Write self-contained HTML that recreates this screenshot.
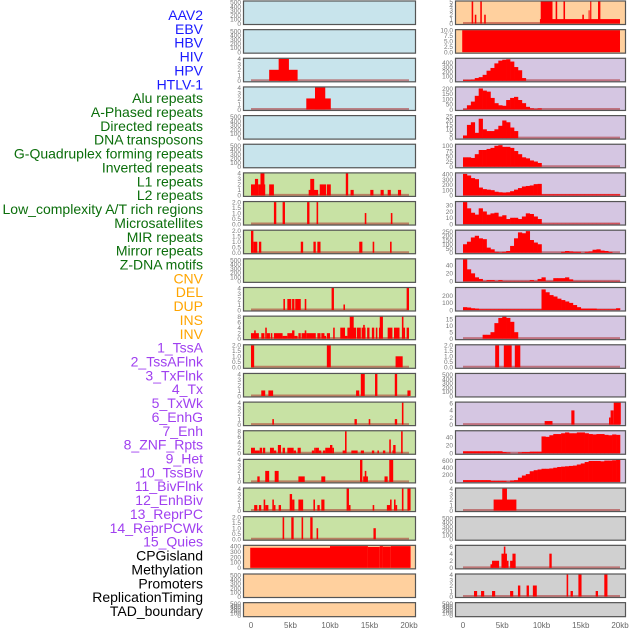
<!DOCTYPE html>
<html><head><meta charset="utf-8">
<style>
html,body{margin:0;padding:0;background:#fff;width:630px;height:630px;overflow:hidden}
svg{display:block}
</style></head>
<body>
<svg id="chart" width="630" height="630" xmlns="http://www.w3.org/2000/svg"></svg>
<script>
// ---- labels ----
const featureLabels = ["AAV2","EBV","HBV","HIV","HPV","HTLV-1","Alu repeats","A-Phased repeats","Directed repeats","DNA transposons","G-Quadruplex forming repeats","Inverted repeats","L1 repeats","L2 repeats","Low_complexity A/T rich regions","Microsatellites","MIR repeats","Mirror repeats","Z-DNA motifs","CNV","DEL","DUP","INS","INV","1_TssA","2_TssAFlnk","3_TxFlnk","4_Tx","5_TxWk","6_EnhG","7_Enh","8_ZNF_Rpts","9_Het","10_TssBiv","11_BivFlnk","12_EnhBiv","13_ReprPC","14_ReprPCWk","15_Quies","CPGisland","Methylation","Promoters","ReplicationTiming","TAD_boundary"];
const labelGroupSizes = [6,13,5,15,5];
const labelGroupColors = ["#1a1aff","#0b6e0b","#ffa500","#a040f0","#000000"];
const xTickValues = [0,5,10,15,20];
const xTickLabels = ["0","5kb","10kb","15kb","20kb"];

// ---- ticks ----
const t500 = [0,100,200,300,400,500];
const t2 = [0,0.5,1,1.5,2];
const t2lab = ["0.0","0.5","1.0","1.5","2.0"];
const t4 = [0,1,2,3,4];
const t8 = [0,2,4,6,8];

// ---- left column bar data [startKb, endKb, value] ----
const L2_bars = [[2.3,5.9,2],[3.5,4.8,4]];
const L3_bars = [[7.0,10.1,2],[8.1,9.4,4]];
const L6_bars = [[0,1,2],[0.5,0.9,3],[1.0,1.8,2],[1.2,1.7,4],[2.3,2.9,2],[7.3,8.5,1],[7.5,8.0,3],[8.7,9.5,2],[9.6,10.1,2],[12.0,12.3,4],[12.6,13.0,1],[15.1,15.5,1],[16.4,16.8,1],[17.3,17.7,1],[18.6,19.0,1]];
const L7_bars = [[2.9,3.2,2],[4.0,4.3,2],[7.1,7.4,2],[8.3,8.5,2],[14.4,14.6,1],[17.7,17.9,1]];
const L8_bars = [[0,0.3,2],[0.3,0.8,1],[1.0,1.3,1],[6.3,6.6,1],[7.9,8.2,1],[8.4,8.8,1],[13.7,14.1,1],[15.4,15.6,1],[17.6,17.8,1]];
const L10_bars = [[4.1,4.3,2],[4.6,5.1,2],[5.2,5.5,2],[5.6,6.3,2],[6.8,7.0,2],[10.2,10.5,4],[11.7,11.9,1],[19.7,20.0,4]];
const L11_bars = [[0,1,2],[0.4,0.6,3],[1.3,1.7,2],[1.8,2.0,4],[2.0,2.4,2],[2.5,2.7,2],[2.9,4.0,2],[4.0,4.6,1],[4.6,5.4,2],[5.2,5.5,3],[5.5,5.9,1],[6.0,6.3,2],[6.4,6.9,2],[6.8,7.0,3],[7.0,8.2,2],[8.4,8.8,2],[8.9,9.3,2],[9.3,9.5,1],[9.6,10.0,2],[10.4,10.6,4],[11.3,11.9,4],[11.9,12.2,1],[12.2,13.3,4],[12.5,13.0,8],[13.4,13.9,4],[14.0,14.5,4],[14.2,14.4,5],[14.7,15.0,4],[15.3,15.6,4],[15.8,16.0,4],[16.2,16.4,4],[16.3,16.7,8],[17.3,17.9,4],[18.1,18.8,4],[19.1,19.3,8],[19.3,19.5,4],[19.7,20.0,4]];
const L12_bars = [[0,0.4,2],[9.6,10.1,2],[18.3,19.2,1]];
const L13_bars = [[1.3,1.8,1],[2.2,2.8,1],[13.3,13.7,1],[13.9,14.4,4],[15.7,16.0,4],[18.2,18.5,4],[19.8,20.2,1]];
const L14_bars = [[2.7,2.9,1],[13.1,13.4,1],[14.9,15.1,1],[18.2,18.5,1],[19.1,19.3,4]];
const L15_bars = [[0,0.5,2],[0.5,1.1,1],[1.1,1.4,2],[1.5,1.8,2],[2.4,2.9,2],[2.9,3.2,1],[3.4,3.8,3],[4.0,4.3,2],[4.6,5.4,2],[5.4,5.7,1],[5.9,6.3,2],[7.7,8.0,1],[8.0,8.2,2],[8.2,8.6,2],[8.6,8.9,1],[9.1,9.4,1],[9.4,10.0,2],[10.0,10.3,3],[10.3,10.5,2],[11.6,11.9,1],[11.9,12.1,8],[12.7,13.5,1],[13.9,14.3,1],[15.3,15.6,1],[16.0,16.2,1],[16.7,17.0,1],[17.5,17.7,5],[17.9,18.3,1],[18.0,18.3,3],[19.0,19.2,8]];
const L16_bars = [[0.8,1.1,1],[1.8,2.3,2],[3.0,3.5,2],[6.0,6.8,1],[8.9,9.4,1],[13.8,14.1,4],[14.2,14.8,1],[14.4,14.6,2],[16.9,17.3,1],[17.5,18.0,4]];
const L17_bars = [[0.4,0.8,1],[1.0,1.3,1],[1.6,1.8,2],[1.8,2.2,1],[2.7,2.9,2],[2.9,3.1,1],[3.5,3.8,1],[4.9,5.2,3],[5.2,5.5,2],[6.0,6.6,2],[7.9,8.1,2],[8.4,8.7,1],[8.9,9.3,2],[12.1,12.4,4],[12.4,12.6,1],[15.4,15.6,1],[17.2,17.6,1],[17.6,17.8,2],[18.1,18.3,2],[18.3,18.5,1],[19.1,19.3,4],[19.8,20.2,4]];
const L18_bars = [[4.0,4.2,2],[5.1,5.4,2],[6.4,6.6,2],[7.5,7.8,2],[8.3,8.5,1],[15.5,15.8,1]];
const L19_bars = [[-0.1,10.0,370],[10.0,14.8,400],[14.8,16.3,385],[16.3,16.7,400],[16.7,17.7,390],[17.7,20.2,400]];

// ---- right column data ----
const R0_bars = [[9.8,20.0,1],[9.9,11.4,5],[1.1,1.3,5],[1.5,1.7,2],[2.2,2.4,5],[2.7,2.9,2],[11.8,12.0,5],[12.8,13.0,5],[15.2,15.4,2],[16.0,16.1,3],[16.2,16.35,5],[17.2,17.5,5]];
const R1_bars = [[-0.1,20.0,10]];
// histogram bins: 40 bins of 0.5 kb from 0 to 20 kb
const R2_bins = [20,20,25,60,80,130,220,280,380,440,460,470,420,300,230,60,0,0,0,0,0,0,0,0,0,0,0,0,0,0,0,0,0,0,0,0,0,0,0,0];
const R3_bins = [5,40,75,130,200,180,170,110,60,40,35,90,110,120,90,60,25,10,5,10,0,0,0,0,0,0,0,0,0,0,0,0,0,0,0,0,0,0,0,0];
const R4_bins = [3,15,18,6,22,10,8,8,10,14,20,18,12,8,0,0,0,0,0,0,0,0,0,0,0,0,0,0,0,0,0,0,0,0,0,0,0,0,0,0];
const R5_bins = [45,45,42,60,80,80,85,90,100,103,95,95,90,75,60,45,40,30,25,18,0,0,0,0,0,0,0,0,0,0,0,0,0,0,0,0,0,0,0,0];
const R6_bins = [410,380,330,310,150,120,110,100,70,60,55,60,80,110,140,170,180,190,215,220,20,20,20,20,20,20,20,20,20,20,20,20,20,20,20,20,20,20,20,20];
const R7_bins = [35,25,18,15,25,20,15,17,18,12,14,8,10,10,8,12,17,16,12,8,0.5,0.5,0.5,0.5,0.5,0.5,0.5,0.5,0.5,0.5,0.5,0.5,0.5,0.5,0.5,0.5,0.5,0.5,0.5,0.5];
const R8_bins = [100,130,180,200,170,160,60,40,10,5,10,20,80,170,240,230,255,150,120,100,0,0,0,0,0,10,20,15,10,10,0,10,15,35,40,25,20,10,0,0];
const R9_bins = [55,30,20,10,6,1,3,3,1,3,1,1,1,1,1,1,1,3,1,6,10,1,1,8,8,8,10,5,1,1,1,1,1,1,1,1,1,1,1,1];
const R10_bins = [40,35,25,20,10,10,10,10,10,10,10,10,10,10,10,10,10,10,10,10,290,250,210,190,160,140,120,100,70,40,20,20,20,20,10,10,10,10,10,25];
const R11_bins = [0,0,0,0,0,3,3,5,12,16,17,16,13,5,0,0,0,0,0,0,0,0,0,0,0,0,0,0,0,0,0,0,0,0,0,0,0,0,0,0];
const R12_bars = [[4.1,4.6,2],[5.2,6.2,2],[6.6,7.3,2]];
const R14_bars = [[10.4,11.4,1],[13.8,14.2,4],[18.6,18.8,2],[18.8,19.2,4],[19.2,20.1,6.2]];
const R15_bins = [5,5,5,5,5,5,5,5,5,5,3,2,0,0,2,3,3,4,4,4,42,41,45,48,48,50,52,50,50,52,52,50,48,47,48,48,46,45,47,46];
const R16_bins = [50,50,50,50,50,50,50,30,30,30,30,10,40,50,120,180,220,300,330,350,370,370,380,400,420,430,440,450,460,490,520,560,590,590,590,580,600,600,610,620];
const R17_bars = [[3.9,6.8,2],[5.0,5.6,4]];
const R19_bars = [[3.5,3.8,1],[3.7,4.6,2],[4.9,5.6,4],[5.2,5.4,6],[5.6,5.8,2],[6.0,6.7,2],[6.3,6.7,4],[11.0,11.3,4]];
const R20_bars = [[1.4,1.8,1],[2.3,2.7,1],[3.7,4.1,1],[6.0,6.4,1],[7.0,7.3,2],[8.1,8.4,2],[8.9,9.4,2],[13.2,13.4,4],[13.7,14.0,1],[14.7,15.1,4],[16.9,17.2,1],[18.0,18.4,4]];

// ---- panel registry (col, row, data, ticks, ymax) ----
const BLUE="#c8e4ec",GREEN="#c8e2a4",PURPLE="#d5c6e2",PEACH="#ffd09e",GREY="#d0d0d0";
const panels = [
 {c:0,r:0,bg:BLUE,ticks:t500,ymax:520},{c:0,r:1,bg:BLUE,ticks:t500,ymax:520},
 {c:0,r:2,bg:BLUE,bars:L2_bars,ticks:t4,ymax:4},{c:0,r:3,bg:BLUE,bars:L3_bars,ticks:t4,ymax:4},
 {c:0,r:4,bg:BLUE,ticks:t500,ymax:520},{c:0,r:5,bg:BLUE,ticks:t500,ymax:520},
 {c:0,r:6,bg:GREEN,bars:L6_bars,ticks:t4,ymax:4},{c:0,r:7,bg:GREEN,bars:L7_bars,ticks:t2,lab:t2lab,ymax:2},
 {c:0,r:8,bg:GREEN,bars:L8_bars,ticks:t2,lab:t2lab,ymax:2},{c:0,r:9,bg:GREEN,ticks:t500,ymax:520},
 {c:0,r:10,bg:GREEN,bars:L10_bars,ticks:t4,ymax:4},{c:0,r:11,bg:GREEN,bars:L11_bars,ticks:t8,ymax:8},
 {c:0,r:12,bg:GREEN,bars:L12_bars,ticks:t2,lab:t2lab,ymax:2},{c:0,r:13,bg:GREEN,bars:L13_bars,ticks:t4,ymax:4},
 {c:0,r:14,bg:GREEN,bars:L14_bars,ticks:t4,ymax:4},{c:0,r:15,bg:GREEN,bars:L15_bars,ticks:t8,ymax:8},
 {c:0,r:16,bg:GREEN,bars:L16_bars,ticks:t4,ymax:4},{c:0,r:17,bg:GREEN,bars:L17_bars,ticks:t4,ymax:4},
 {c:0,r:18,bg:GREEN,bars:L18_bars,ticks:t2,lab:t2lab,ymax:2},{c:0,r:19,bg:PEACH,bars:L19_bars,ticks:[0,100,200,300,400],ymax:405,nobase:true},
 {c:0,r:20,bg:PEACH,ticks:t500,ymax:520},{c:0,r:21,bg:PEACH,ticks:t500,ymax:520},
 {c:1,r:0,bg:PEACH,bars:R0_bars,ticks:[0,1,2,3,4,5],ymax:5},{c:1,r:1,bg:PEACH,bars:R1_bars,ticks:[0,2.5,5,7.5,10],lab:["0.0","2.5","5.0","7.5","10.0"],ymax:10,nobase:true},
 {c:1,r:2,bg:PURPLE,bins:R2_bins,ticks:[0,100,200,300,400],ymax:480},{c:1,r:3,bg:PURPLE,bins:R3_bins,ticks:[0,50,100,150,200],ymax:210},
 {c:1,r:4,bg:PURPLE,bins:R4_bins,ticks:[0,5,10,15,20,25],ymax:25},{c:1,r:5,bg:PURPLE,bins:R5_bins,ticks:[0,25,50,75,100],ymax:105},
 {c:1,r:6,bg:PURPLE,bins:R6_bins,ticks:[0,100,200,300,400],ymax:420},{c:1,r:7,bg:PURPLE,bins:R7_bins,ticks:[0,10,20,30],ymax:35},
 {c:1,r:8,bg:PURPLE,bins:R8_bins,ticks:[0,50,100,150,200,250],ymax:260},{c:1,r:9,bg:PURPLE,bins:R9_bins,ticks:[0,20,40],ymax:55},
 {c:1,r:10,bg:PURPLE,bins:R10_bins,ticks:[0,100,200],ymax:310},{c:1,r:11,bg:PURPLE,bins:R11_bins,ticks:[0,5,10,15],ymax:17},
 {c:1,r:12,bg:PURPLE,bars:R12_bars,ticks:t2,lab:t2lab,ymax:2},{c:1,r:13,bg:PURPLE,ticks:t500,ymax:520},
 {c:1,r:14,bg:PURPLE,bars:R14_bars,ticks:[0,2,4,6],ymax:6.2},{c:1,r:15,bg:PURPLE,bins:R15_bins,ticks:[0,20,40],ymax:55},
 {c:1,r:16,bg:PURPLE,bins:R16_bins,ticks:[0,200,400,600],ymax:620},{c:1,r:17,bg:GREY,bars:R17_bars,ticks:t4,ymax:4},
 {c:1,r:18,bg:GREY,ticks:t500,ymax:520},{c:1,r:19,bg:GREY,bars:R19_bars,ticks:[0,2,4,6],ymax:6.2},
 {c:1,r:20,bg:GREY,bars:R20_bars,ticks:t4,ymax:4},{c:1,r:21,bg:GREY,ticks:t500,ymax:520}
];

const NS="http://www.w3.org/2000/svg";
const svg=document.getElementById('chart');
const cols=[{x0:243,x1:416,z:251,s:7.9},{x0:455,x1:626,z:463,s:7.85}];
function rowTop(r){return 0.5+28.65*r;}
function rowH(r){return r===21?15:24.5;}
function mk(tag,attrs){const e=document.createElementNS(NS,tag);for(const k in attrs)e.setAttribute(k,attrs[k]);return e;}

// labels
let li=0;
labelGroupSizes.forEach((n,g)=>{
  for(let k=0;k<n;k++){
    const t=mk('text',{x:203,y:15+li*13.86+5,'text-anchor':'end','font-family':'Liberation Sans, sans-serif','font-size':'14',fill:labelGroupColors[g]});
    t.textContent=featureLabels[li];
    
    
    svg.appendChild(t);li++;
  }
});

panels.forEach(p=>{
  const C=cols[p.c],top=rowTop(p.r),h=rowH(p.r);
  const xs=v=>C.z+v*C.s;
  const base=top+h-1.5;
  const ys=v=>base-v/p.ymax*(h-2.5);
  const g=mk('g',{});
  
  
  g.appendChild(mk('rect',{x:C.x0,y:top,width:C.x1-C.x0,height:h,fill:p.bg}));
  const hasData=!!(p.bars||p.bins);
  if(hasData&&!p.nobase){
    const bl=mk('line',{x1:xs(0),x2:xs(20),y1:base-0.5,y2:base-0.5,stroke:'rgba(170,30,30,0.5)','stroke-width':2});
    
    
    g.appendChild(bl);
  }
  if(p.bars){p.bars.forEach(b=>{
    const r=mk('rect',{x:xs(b[0]),y:ys(b[2]),width:Math.max(1,xs(b[1])-xs(b[0])),height:base-ys(b[2]),fill:'#ff0000'});
    
    
    g.appendChild(r);});}
  if(p.bins){p.bins.forEach((v,i)=>{ if(v<=0)return;
    const r=mk('rect',{x:xs(i*0.5),y:ys(v),width:xs(0.5)-xs(0)+0.3,height:base-ys(v),fill:'#ff0000'});
    
    
    g.appendChild(r);});}
  g.appendChild(mk('rect',{x:C.x0+0.5,y:top+0.5,width:C.x1-C.x0-1,height:h-1,fill:'none',stroke:'#555','stroke-width':1.2}));
  p.ticks.forEach((t,i)=>{
    const tx=mk('text',{x:C.x0-2,y:ys(t)+2.3,'text-anchor':'end','font-family':'Liberation Sans, sans-serif','font-size':'6.5',fill:'#777'});
    tx.textContent=p.lab?p.lab[i]:String(t);
    
    
    g.appendChild(tx);
  });
  svg.appendChild(g);
});

// x-axes
cols.forEach((C,ci)=>{
  xTickValues.forEach((v,i)=>{
    const t=mk('text',{x:C.z+v*C.s,y:628,'text-anchor':'middle','font-family':'Liberation Sans, sans-serif','font-size':'8',fill:'#666'});
    t.textContent=xTickLabels[i];
    
    
    svg.appendChild(t);
  });
});
</script>
</body></html>
